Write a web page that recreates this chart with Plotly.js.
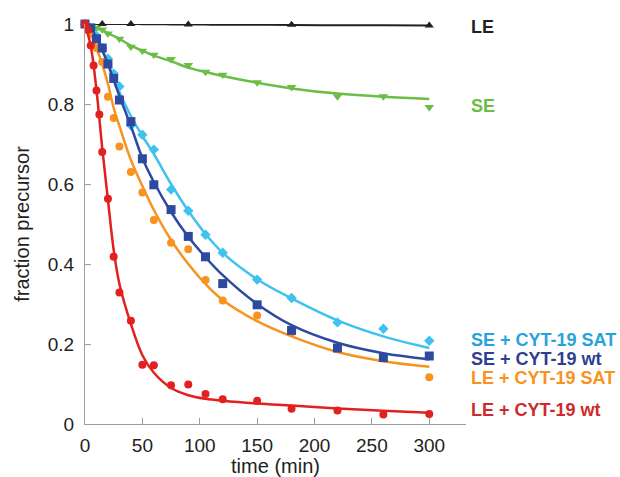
<!DOCTYPE html>
<html>
<head>
<meta charset="utf-8">
<script src="https://cdn.plot.ly/plotly-3.0.1.min.js"></script>
<style>
  html, body { margin: 0; padding: 0; background: #ffffff; }
  #chart { width: 620px; height: 477px; }
</style>
</head>
<body>
<div id="chart"></div>
<script>
// ---------- data ----------
// measured points
const tLE = [0, 15, 40, 90, 180, 300];
const yLE = [1.0, 1.0, 1.0, 0.999, 0.998, 0.996];

const tSE = [0, 5, 10, 15, 20, 30, 40, 50, 60, 75, 90, 105, 120, 150, 180, 220, 260, 300];
const ySE = [1.0, 0.996, 0.99, 0.986, 0.976, 0.963, 0.943, 0.933, 0.923, 0.912, 0.897, 0.880, 0.873, 0.854, 0.842, 0.819, 0.819, 0.792];

const tPts = [0, 5, 10, 15, 20, 25, 30, 40, 50, 60, 75, 90, 105, 120, 150, 180, 220, 260, 300];
const ySE_SAT = [1.0, 0.99, 0.97, 0.94, 0.913, 0.876, 0.844, 0.746, 0.723, 0.686, 0.586, 0.533, 0.473, 0.428, 0.361, 0.315, 0.254, 0.238, 0.208];
const ySE_wt  = [1.0, 0.99, 0.963, 0.94, 0.90, 0.864, 0.81, 0.756, 0.663, 0.598, 0.536, 0.469, 0.418, 0.351, 0.298, 0.234, 0.19, 0.166, 0.17];
const yLE_SAT = [1.0, 0.975, 0.94, 0.905, 0.818, 0.765, 0.694, 0.63, 0.579, 0.51, 0.453, 0.437, 0.36, 0.309, 0.271, 0.229, 0.19, 0.168, 0.117];

const tLEwt = [0, 2.5, 5, 7.5, 10, 12.5, 15, 20, 25, 30, 40, 50, 60, 75, 90, 105, 120, 150, 180, 220, 260, 300];
const yLE_wt = [1.0, 0.985, 0.946, 0.896, 0.834, 0.774, 0.68, 0.563, 0.418, 0.329, 0.258, 0.148, 0.147, 0.097, 0.099, 0.075, 0.062, 0.058, 0.038, 0.034, 0.024, 0.025];

// fitted curves
const tFit = [0, 5, 10, 15, 20, 25, 30, 40, 50, 60, 75, 90, 105, 120, 150, 180, 220, 260, 300];
const fitLE     = [1.0, 1.0, 1.0, 1.0, 1.0, 1.0, 1.0, 1.0, 0.9995, 0.9993, 0.999, 0.9988, 0.9985, 0.9983, 0.998, 0.9975, 0.997, 0.9968, 0.9965];
const fitSE     = [1.0, 0.995, 0.99, 0.984, 0.977, 0.97, 0.963, 0.946, 0.933, 0.921, 0.907, 0.891, 0.88, 0.87, 0.853, 0.839, 0.826, 0.818, 0.8125];
const fitSE_SAT = [1.0, 0.99, 0.965, 0.935, 0.90, 0.865, 0.83, 0.77, 0.72, 0.675, 0.60, 0.533, 0.475, 0.428, 0.362, 0.314, 0.259, 0.219, 0.19];
const fitSE_wt  = [1.0, 0.99, 0.965, 0.935, 0.90, 0.86, 0.82, 0.745, 0.665, 0.605, 0.53, 0.468, 0.417, 0.372, 0.30, 0.247, 0.203, 0.177, 0.162];
const fitLE_SAT = [1.0, 0.975, 0.94, 0.90, 0.85, 0.79, 0.745, 0.66, 0.595, 0.535, 0.46, 0.40, 0.35, 0.31, 0.257, 0.219, 0.18, 0.157, 0.143];
const fitLE_wt  = [1.0, 0.945, 0.835, 0.69, 0.56, 0.435, 0.35, 0.25, 0.172, 0.128, 0.09, 0.072, 0.063, 0.058, 0.051, 0.046, 0.039, 0.033, 0.028];

const labels = ['LE', 'SE', 'SE + CYT-19 SAT', 'SE + CYT-19 wt', 'LE + CYT-19 SAT', 'LE + CYT-19 wt'];
const labelY = [0.992, 0.796, 0.209, 0.162, 0.115, 0.034];

const xTicks = [0, 50, 100, 150, 200, 250, 300];
const yTicks = [0, 0.2, 0.4, 0.6, 0.8, 1];
const yTickText = ['0', '0.2', '0.4', '0.6', '0.8', '1'];

// ---------- styling ----------
const C = {
  black: '#231f20', green: '#6abd45', lblue: '#3fc2ef', dblue: '#2d4aa0',
  orange: '#f7931e', red: '#e1201f'
};
const txtC = {
  black: '#231f20', green: '#6abd45', lblue: '#27a3dc', dblue: '#2e3f91',
  orange: '#f7931e', red: '#cf2a2a'
};
const FONT = 'Liberation Sans, Arial, sans-serif';

function curve(x, y, color, w) {
  return { x: x, y: y, type: 'scatter', mode: 'lines', cliponaxis: false,
    line: { color: color, width: w, shape: 'spline', smoothing: 1 }, hoverinfo: 'skip' };
}
function pts(x, y, color, symbol, size) {
  return { x: x, y: y, type: 'scatter', mode: 'markers', cliponaxis: false,
    marker: { color: color, symbol: symbol, size: size, line: { width: 0 } }, hoverinfo: 'skip' };
}

const traces = [
  curve(tFit, fitLE, C.black, 2),
  pts(tLE, yLE, C.black, 'triangle-up', 8),
  curve(tFit, fitSE, C.green, 2.5),
  pts(tSE, ySE, C.green, 'triangle-down', 8.5),
  curve(tFit, fitSE_SAT, C.lblue, 2.5),
  pts(tPts, ySE_SAT, C.lblue, 'diamond', 8),
  curve(tFit, fitLE_SAT, C.orange, 2.5),
  pts(tPts, yLE_SAT, C.orange, 'circle', 8),
  curve(tFit, fitSE_wt, C.dblue, 2.5),
  pts(tPts, ySE_wt, C.dblue, 'square', 9),
  curve(tFit, fitLE_wt, C.red, 2.5),
  pts(tLEwt, yLE_wt, C.red, 'circle', 8)
];

const labelColors = [txtC.black, txtC.green, txtC.lblue, txtC.dblue, txtC.orange, txtC.red];
const annotations = labels.map((t, i) => ({
  text: '<b>' + t + '</b>', xref: 'paper', yref: 'y', x: 1.009, y: labelY[i],
  xanchor: 'left', yanchor: 'middle', showarrow: false,
  font: { family: FONT, size: 18, color: labelColors[i] }
}));

const axisCommon = {
  showgrid: false, zeroline: false, showline: true, linecolor: '#9d9d9d', linewidth: 1,
  ticks: 'inside', ticklen: 6, tickcolor: '#9d9d9d', tickwidth: 1,
  tickfont: { family: FONT, size: 19, color: '#231f20' }, automargin: false
};

const layout = {
  width: 620, height: 477,
  margin: { l: 85, r: 154, t: 24, b: 53 },
  paper_bgcolor: '#ffffff', plot_bgcolor: '#ffffff',
  showlegend: false, hovermode: false,
  xaxis: Object.assign({}, axisCommon, {
    range: [0, 332], tickvals: xTicks, ticklabelstandoff: 4,
    title: { text: 'time (min)', font: { family: FONT, size: 20, color: '#231f20' }, standoff: 6 }
  }),
  yaxis: Object.assign({}, axisCommon, {
    range: [0, 1], tickvals: yTicks, ticktext: yTickText, ticklabelstandoff: 6,
    title: { text: 'fraction precursor', font: { family: FONT, size: 20, color: '#231f20' }, standoff: 12 }
  }),
  annotations: annotations
};

Plotly.newPlot('chart', traces, layout, { staticPlot: true, displayModeBar: false });
</script>
</body>
</html>
